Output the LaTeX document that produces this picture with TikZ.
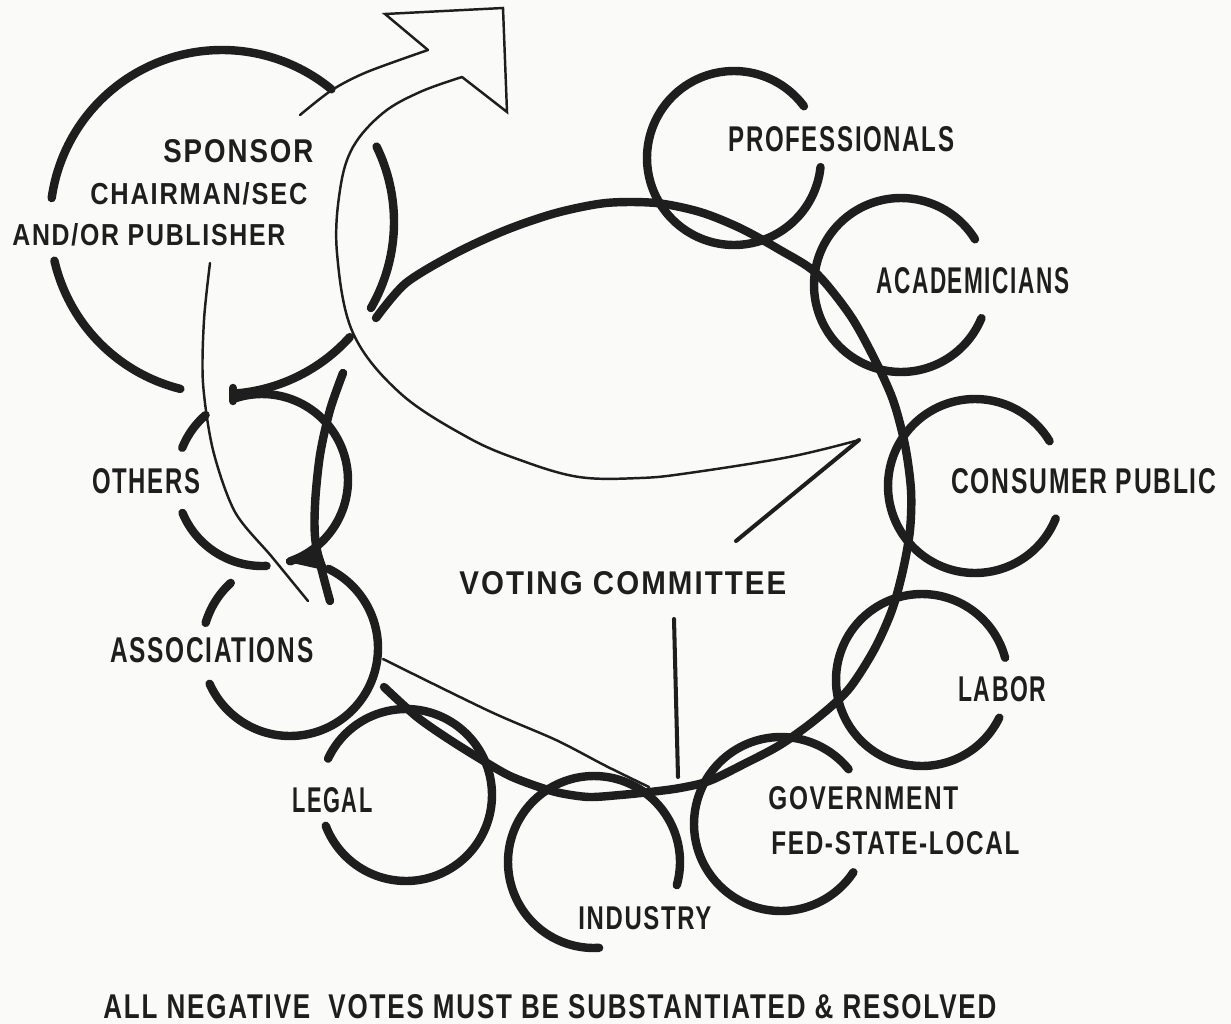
\documentclass[tikz,border=0pt]{standalone}
\usepackage{fontspec}
\setmainfont[LetterSpace=7]{Liberation Sans}
\usepackage{graphicx}
\definecolor{ink}{RGB}{30,30,30}
\definecolor{paper}{RGB}{250,250,248}
\newlength\pxu
\setlength\pxu{0.02cm}
\newcommand\lbl[3]{\resizebox{#1\pxu}{#2\pxu}{\bfseries #3}}
\newcommand\carc[6][thk]{\draw[#1] plot[domain=#5:#6, samples=72, smooth, variable=\t] ({#2+#4*cos(\t)},{#3+#4*sin(\t)});}
\begin{document}
\begin{tikzpicture}[x=0.02cm,y=-0.02cm,
  thk/.style={draw=ink, line width=4.8pt, line cap=round, line join=round},
  thn/.style={draw=ink, line width=1.4pt, line cap=round, line join=round},
  med/.style={draw=ink, line width=2.3pt, line cap=round},
  lab/.style={inner sep=0pt, anchor=base west, text=ink}]
\fill[paper] (0,0) rectangle (1231,1024);
\useasboundingbox (0,0) rectangle (1231,1024);

% sponsor circle
\carc{222}{222}{172}{188}{309.5}
\carc{222}{222}{172}{-26}{30}
\carc{222}{222}{172}{42}{86.3}
\carc{222}{222}{172}{104}{167}

% big arrow
\draw[thn] plot[smooth] coordinates {(300,115) (332,90) (367,72) (428,50)};
\draw[thn, line join=miter] (428,50) -- (385,14) -- (503,8) -- (507,112) -- (462,77);
\draw[thn] plot[smooth, tension=0.6] coordinates {(462,77) (420,92) (383,113) (353,147) (340,190) (337,253) (353,333) (400,393) (467,437) (520,460) (579,477) (640,478) (689,473) (789,457) (859,440)};
\draw[med] (859,440) -- (736,541);

% voting committee ring
\draw[thk] plot[smooth] coordinates {(376,318) (406,283) (456,253) (506,230) (556,213) (606,203) (656,203) (700,212) (740,228) (780,250) (816,273) (850,315) (874,358) (893,400) (905,445) (911,490) (910,530) (903,570) (892,610) (874,650) (848,690) (815,720) (780,745) (744,764) (709,781) (680,788) (650,792) (620,795) (589,797) (560,793) (536,786) (510,776) (487,763) (450,740) (417,717) (384,687)};
\draw[thk] plot[smooth] coordinates {(343,373) (330,410) (320,455) (315,505) (316,545) (330,601)};

% others
\carc{262}{480}{86}{202}{229}
\carc{262}{480}{86}{252}{431}
\carc{262}{480}{86}{87}{157.5}
% associations
\carc{290}{648}{88}{196.6}{227.7}
\carc{290}{648}{88}{-64}{156}
% cusps
\fill[ink] (288,562) -- (319,546) -- (328,571) -- cycle;
\draw[thk] (233,388) -- (233,401);

% thin lines
\draw[thn] plot[smooth] coordinates {(210,263) (204,320) (203,383) (213,450) (235,512) (272,557) (308,601)};
\draw[thn] plot[smooth] coordinates {(383,659) (489,711) (556,740) (606,766) (649,787)};
\draw[med] (674,619) -- (678,777);

% member circles
\carc{406}{795}{86}{-155}{159}
\carc{594}{862}{86}{86.6}{375.6}
\carc{734}{158}{87}{6}{323.5}
\carc{901}{285}{87}{22.4}{328.3}
\carc{975}{486}{87}{22}{329}
\carc{922}{680}{86}{26}{345}
\carc{781}{824}{87}{33.7}{321}

% labels
\node[lab] (sponsor) at (163,163) {\lbl{150}{23}{SPONSOR}};
\node[lab] (chair) at (90,205) {\lbl{217}{22}{CHAIRMAN/SEC}};
\node[lab] (andor) at (12,245) {\lbl{273}{22}{AND/OR PUBLISHER}};
\node[lab] (prof) at (728,152) {\lbl{226}{25}{PROFESSIONALS}};
\node[lab] (acad) at (876,293) {\lbl{193}{26}{ACADEMICIANS}};
\node[lab] (cons) at (951,493) {\lbl{265}{25}{CONSUMER PUBLIC}};
\node[lab] (others) at (92,493) {\lbl{108}{25}{OTHERS}};
\node[lab] (voting) at (459,594) {\lbl{327}{23}{VOTING COMMITTEE}};
\node[lab] (assoc) at (110,662) {\lbl{203}{25}{ASSOCIATIONS}};
\node[lab] (labor) at (958,701) {\lbl{88}{25}{LABOR}};
\node[lab] (govt) at (768,809) {\lbl{190}{23}{GOVERNMENT}};
\node[lab] (fed) at (771,854) {\lbl{248}{23}{FED-STATE-LOCAL}};
\node[lab] (legal) at (292,812) {\lbl{80}{25}{LEGAL}};
\node[lab] (industry) at (578,929) {\lbl{133}{23}{INDUSTRY}};
\node[lab] (note) at (103,1018) {\lbl{893}{24}{ALL NEGATIVE\hspace{0.7em}VOTES MUST BE SUBSTANTIATED \& RESOLVED}};
\end{tikzpicture}
\end{document}
